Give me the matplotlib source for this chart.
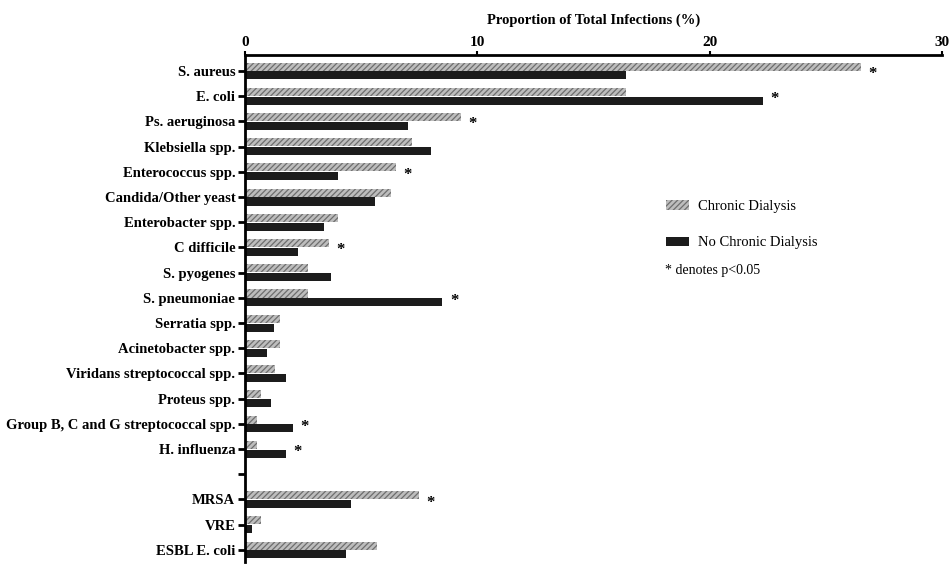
import numpy as np
import matplotlib
matplotlib.use("Agg")
import matplotlib.pyplot as plt
from matplotlib.patches import Patch

# categories (blank entry is the gap before the resistant organisms)
organisms = ['S. aureus', 'E. coli', 'Ps. aeruginosa', 'Klebsiella spp.',
             'Enterococcus spp.', 'Candida/Other yeast', 'Enterobacter spp.',
             'C difficile', 'S. pyogenes', 'S. pneumoniae', 'Serratia spp.',
             'Acinetobacter spp.', 'Viridans streptococcal spp.', 'Proteus spp.',
             'Group B, C and G streptococcal spp.', 'H. influenza', '',
             'MRSA', 'VRE', 'ESBL E. coli']

chronic = [26.5, 16.4, 9.3, 7.2, 6.5, 6.3, 4.0, 3.6, 2.7, 2.7, 1.5,
           1.5, 1.3, 0.7, 0.5, 0.5, np.nan, 7.5, 0.7, 5.7]
no_chronic = [16.4, 22.3, 7.0, 8.0, 4.0, 5.6, 3.4, 2.3, 3.7, 8.5, 1.25,
              0.95, 1.75, 1.1, 2.05, 1.75, np.nan, 4.55, 0.3, 4.35]
significant = ['S. aureus', 'E. coli', 'Ps. aeruginosa', 'Enterococcus spp.',
               'C difficile', 'S. pneumoniae', 'Group B, C and G streptococcal spp.',
               'H. influenza', 'MRSA']

plt.rcParams['font.family'] = ['Liberation Serif', 'DejaVu Serif']
plt.rcParams['hatch.linewidth'] = 0.9

fig = plt.figure(figsize=(9.52, 5.64), dpi=100)
ax = fig.add_axes([245 / 952, 2 / 564, (942 - 245) / 952, (562 - 55) / 564])

pos = np.arange(len(organisms))
h = 0.32
ax.barh(pos - 0.17, chronic, height=h, color='#bdbdbd', hatch='//////',
        edgecolor='#6e6e6e', linewidth=0)
ax.barh(pos + 0.18, no_chronic, height=h, color='#1c1c1c', edgecolor='none')

for i, name in enumerate(organisms):
    if name in significant:
        x = np.nanmax([chronic[i], no_chronic[i]]) + 0.5
        ax.text(x, pos[i] + 0.12, '*', ha='center', va='center',
                fontsize=12, fontweight='bold')

ax.set_xlim(0, 30)
ax.set_ylim(19.48, -0.63)
ax.set_yticks(pos)
ax.set_yticklabels(organisms, fontweight='bold', fontsize=10.5)
ax.set_xticks([0, 10, 20, 30])
ax.set_xticklabels(['0', '10', '20', '30'], fontweight='bold', fontsize=11)
ax.xaxis.tick_top()
ax.xaxis.set_label_position('top')
ax.set_xlabel('Proportion of Total Infections (%)', fontweight='bold',
              fontsize=10.5, labelpad=9)
ax.tick_params(axis='y', direction='out', length=5, width=2, pad=2)
ax.tick_params(axis='x', direction='out', length=3, width=1.5, pad=1)

for s in ['right', 'bottom']:
    ax.spines[s].set_visible(False)
ax.spines['left'].set_linewidth(2)
ax.spines['top'].set_linewidth(2)

handles = [Patch(facecolor='#bdbdbd', hatch='//////', edgecolor='#6e6e6e',
                 linewidth=0),
           Patch(facecolor='#1c1c1c', edgecolor='none')]
fig.legend(handles, ['Chronic Dialysis', 'No Chronic Dialysis'],
           loc='upper left', bbox_to_anchor=(653 / 952, 1 - 187 / 564),
           frameon=False, fontsize=10.5, handlelength=1.6, handleheight=0.6,
           labelspacing=1.6, handletextpad=0.6)
fig.text(665 / 952, 1 - 270 / 564, '* denotes p<0.05', fontsize=10,
         va='center')

fig.savefig('out.png', dpi=100)
